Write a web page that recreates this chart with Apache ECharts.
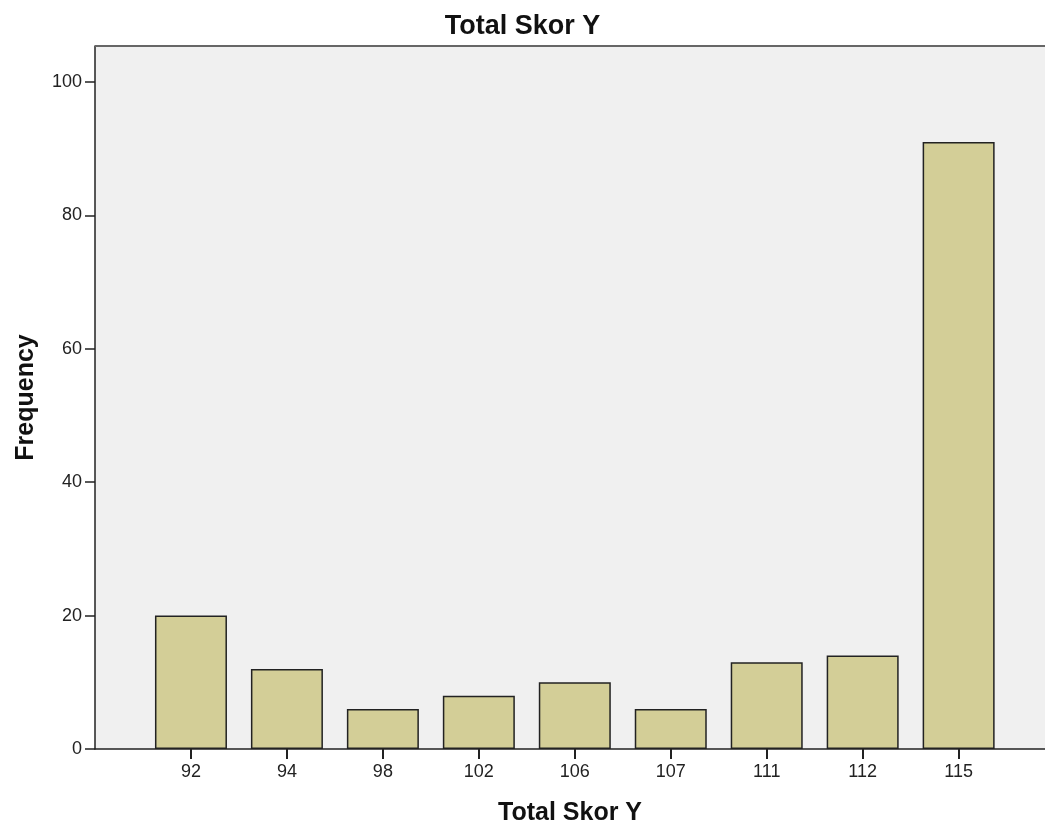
<!DOCTYPE html>
<html>
<head>
<meta charset="utf-8">
<script src="https://cdn.jsdelivr.net/npm/echarts@6/dist/echarts.min.js"></script>
<style>html,body{margin:0;padding:0;background:#fff}#c{width:1045px;height:825px}</style>
</head>
<body>
<div id="c"></div>
<script>
var categories = ['92', '94', '98', '102', '106', '107', '111', '112', '115'];
var frequency = [20, 12, 6, 8, 10, 6, 13, 14, 91];
var yTicks = [0, 20, 40, 60, 80, 100];

var chart = echarts.init(document.getElementById('c'));
var font = '"Liberation Sans", Arial, sans-serif';
var idx = categories.map(function (_, i) { return i; });

chart.setOption({
  backgroundColor: '#fff',
  animation: false,
  title: {
    text: 'Total Skor Y', left: 'center', top: 8,
    textStyle: { fontFamily: font, fontSize: 27, fontWeight: 'bold', color: '#111' }
  },
  grid: {
    left: 95, right: 0, top: 46, bottom: 76, outerBoundsMode: 'none', containLabel: false,
    backgroundColor: '#f0f0f0', show: true, borderWidth: 0
  },
  xAxis: {
    type: 'value', min: -1, max: 8.9,
    name: 'Total Skor Y', nameLocation: 'middle', nameGap: 52,
    nameTextStyle: { fontFamily: font, fontSize: 25, fontWeight: 'bold', color: '#111' },
    axisLine: { show: true, onZero: false, lineStyle: { color: '#222', width: 1.5 } },
    axisTick: { show: true, length: 10, customValues: idx, lineStyle: { color: '#222', width: 2 } },
    axisLabel: {
      customValues: idx, margin: 14,
      formatter: function (v) { return categories[Math.round(v)] || ''; },
      fontFamily: font, fontSize: 18, color: '#222'
    },
    splitLine: { show: false }
  },
  yAxis: {
    type: 'value', min: 0, max: 105.4,
    name: 'Frequency', nameLocation: 'middle', nameGap: 56,
    nameTextStyle: { fontFamily: font, fontSize: 25, fontWeight: 'bold', color: '#111' },
    axisLine: { show: true, onZero: false, lineStyle: { color: '#222', width: 1.5 } },
    axisTick: { show: true, length: 10, customValues: yTicks, lineStyle: { color: '#222', width: 1.5 } },
    axisLabel: { customValues: yTicks, margin: 13, fontFamily: font, fontSize: 18, color: '#222' },
    splitLine: { show: false }
  },
  graphic: [{
    type: 'line', shape: { x1: 95, y1: 46, x2: 1045, y2: 46 },
    style: { stroke: '#666', lineWidth: 2 }, z: 100
  }],
  series: [{
    type: 'bar',
    data: frequency.map(function (v, i) { return [i, v]; }),
    barWidth: 72,
    itemStyle: { color: '#d3ce97', borderColor: '#222', borderWidth: 1.5 }
  }]
});
</script>
</body>
</html>
